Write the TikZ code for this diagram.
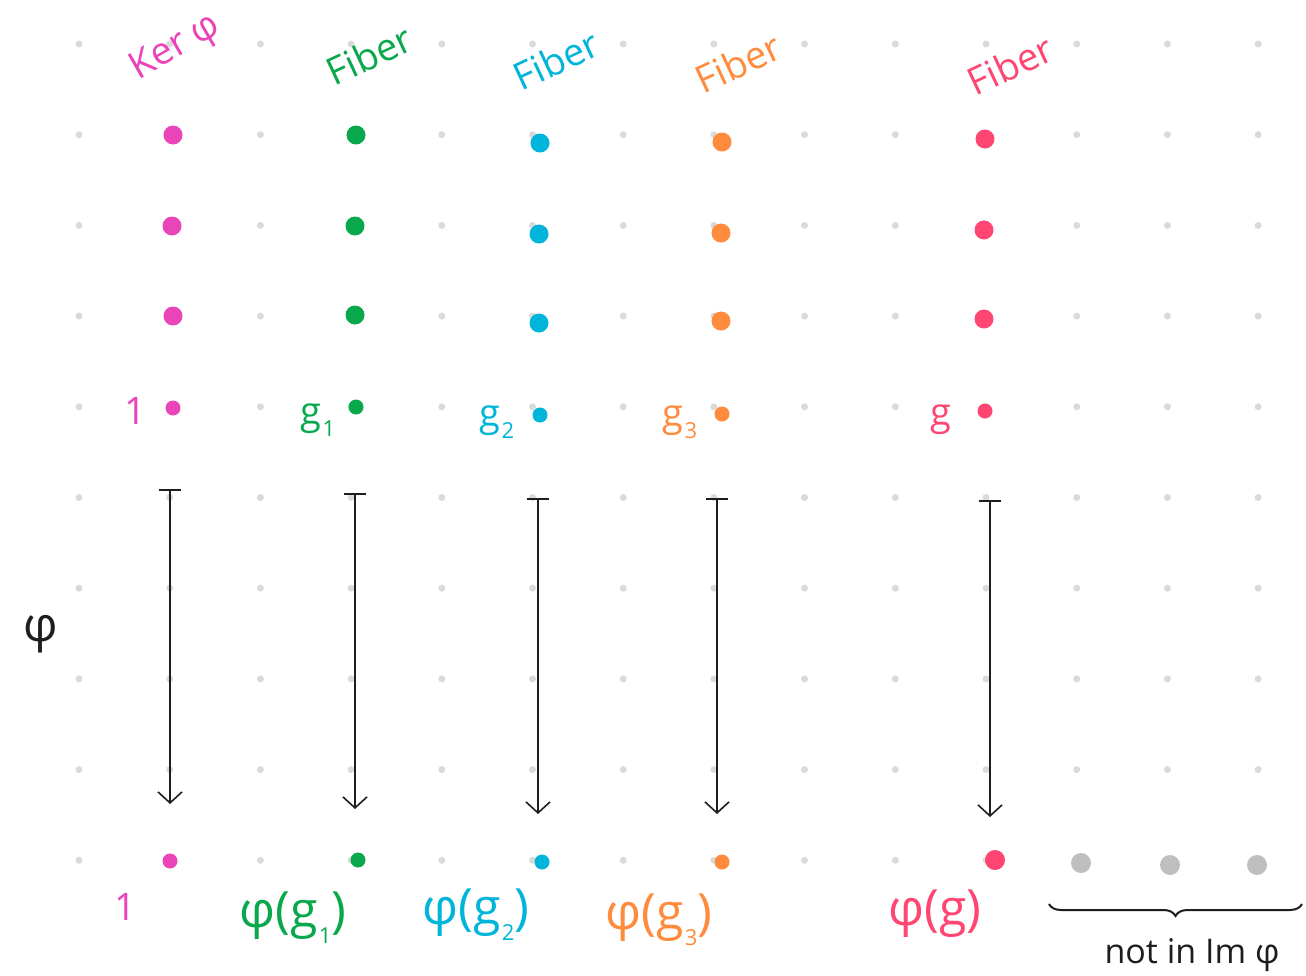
\documentclass[tikz,border=0pt]{standalone}
\usepackage{fontspec}
\setmainfont{Open Sans}
\usetikzlibrary{arrows.meta,positioning,decorations.pathreplacing}
\definecolor{KerPink}{HTML}{EA45B8}
\definecolor{FibGreen}{HTML}{0AA84C}
\definecolor{FibCyan}{HTML}{00B5D9}
\definecolor{FibOrange}{HTML}{FF8B3D}
\definecolor{FibRed}{HTML}{FF4672}
\definecolor{GridGray}{HTML}{DADADA}
\definecolor{OutGray}{HTML}{BFBFBF}
\definecolor{Ink}{HTML}{1E1E1E}
\newcommand{\lowsub}[1]{\kern1pt\raisebox{-0.32em}{\fontsize{22}{22}\selectfont #1}}
\tikzset{
  griddot/.style={circle, fill=GridGray, inner sep=0pt, minimum size=7pt},
  elem/.style={circle, inner sep=0pt, minimum size=19pt},
  base elem/.style={circle, inner sep=0pt, minimum size=15pt},
  outside/.style={circle, fill=OutGray, inner sep=0pt, minimum size=20pt},
  maparrow/.style={{Bar[width=22pt,line width=1.6pt]}-{Straight Barb[length=11pt,width=24pt,line width=1.6pt]},
    line width=1.6pt, draw=Ink},
  fibtitle/.style={font=\fontsize{38}{38}\selectfont, rotate=25, inner sep=0pt},
  rowlabel/.style={font=\fontsize{38}{38}\selectfont, inner sep=0pt},
  imglabel/.style={font=\fontsize{50}{50}\selectfont, inner sep=0pt},
  bracelabel/.style={font=\fontsize{34}{34}\selectfont, inner sep=0pt, text=Ink}
}
\begin{document}
\begin{tikzpicture}[x=1pt, y=-1pt]
  \useasboundingbox (0,0) rectangle (1306,975);
  % dotted grid
  \foreach \i in {0,...,13}
    \foreach \j in {0,...,9}
      \node[griddot] (d\i-\j) at ({79+90.7*\i},{44+90.7*\j}) {};

  % fibre titles
  \node[fibtitle, rotate=5, text=KerPink] (kerTitle) at (176,48) {Ker φ};
  \node[fibtitle, text=FibGreen] (fibA) at (369,55) {Fiber};
  \node[fibtitle, text=FibCyan] (fibB) at (556,60) {Fiber};
  \node[fibtitle, text=FibOrange] (fibC) at (738,63) {Fiber};
  \node[fibtitle, text=FibRed] (fibD) at (1010,65) {Fiber};

  % kernel
  \node[elem, fill=KerPink] (k1) at (173,135) {};
  \node[elem, fill=KerPink] (k2) at (172,226) {};
  \node[elem, fill=KerPink] (k3) at (173,316) {};
  \node[base elem, fill=KerPink] (k4) at (173,408) {};
  % fibre of g1
  \node[elem, fill=FibGreen] (a1) at (356,135) {};
  \node[elem, fill=FibGreen] (a2) at (355,226) {};
  \node[elem, fill=FibGreen] (a3) at (355,315) {};
  \node[base elem, fill=FibGreen] (a4) at (356,407) {};
  % fibre of g2
  \node[elem, fill=FibCyan] (b1) at (540,143) {};
  \node[elem, fill=FibCyan] (b2) at (539,234) {};
  \node[elem, fill=FibCyan] (b3) at (539,323) {};
  \node[base elem, fill=FibCyan] (b4) at (540,415) {};
  % fibre of g3
  \node[elem, fill=FibOrange] (c1) at (722,142) {};
  \node[elem, fill=FibOrange] (c2) at (721,233) {};
  \node[elem, fill=FibOrange] (c3) at (721,321) {};
  \node[base elem, fill=FibOrange] (c4) at (722,414) {};
  % fibre of g
  \node[elem, fill=FibRed] (e1) at (985,139) {};
  \node[elem, fill=FibRed] (e2) at (984,230) {};
  \node[elem, fill=FibRed] (e3) at (984,319) {};
  \node[base elem, fill=FibRed] (e4) at (985,411) {};

  % element labels
  \node[rowlabel, text=KerPink] (lk) at (135,411) {1};
  \node[rowlabel, text=FibGreen] (la) at (318,420) {g\lowsub{1}};
  \node[rowlabel, text=FibCyan] (lb) at (497,422) {g\lowsub{2}};
  \node[rowlabel, text=FibOrange] (lc) at (680,422) {g\lowsub{3}};
  \node[rowlabel, text=FibRed] (le) at (941,420) {g};

  % the map
  \node[font=\fontsize{48}{48}\selectfont, text=Ink, inner sep=0pt] (phi) at (41,634) {φ};
  \coordinate (kTop) at (170,489);  \coordinate (kBot) at (170,804);
  \coordinate (aTop) at (355,493);  \coordinate (aBot) at (355,809);
  \coordinate (bTop) at (538,498);  \coordinate (bBot) at (538,814);
  \coordinate (cTop) at (717,498);  \coordinate (cBot) at (717,814);
  \coordinate (eTop) at (990,500);  \coordinate (eBot) at (990,817);
  \draw[maparrow] (kTop) -- (kBot);
  \draw[maparrow] (aTop) -- (aBot);
  \draw[maparrow] (bTop) -- (bBot);
  \draw[maparrow] (cTop) -- (cBot);
  \draw[maparrow] (eTop) -- (eBot);

  % images
  \node[base elem, fill=KerPink] (ik) at (170,861) {};
  \node[base elem, fill=FibGreen] (ia) at (358,860) {};
  \node[base elem, fill=FibCyan] (ib) at (542,862) {};
  \node[base elem, fill=FibOrange] (ic) at (722,862) {};
  \node[elem, minimum size=20pt, fill=FibRed] (ie) at (995,860) {};
  \node[outside] (o1) at (1081,863) {};
  \node[outside] (o2) at (1170,865) {};
  \node[outside] (o3) at (1257,865) {};

  \node[rowlabel, text=KerPink] (lik) at (125,907) {1};
  \node[imglabel, text=FibGreen] (lia) at (293,918) {φ(g\lowsub{1})};
  \node[imglabel, text=FibCyan] (lib) at (476,915) {φ(g\lowsub{2})};
  \node[imglabel, text=FibOrange] (lic) at (659,920) {φ(g\lowsub{3})};
  \node[imglabel, text=FibRed] (lie) at (935,914) {φ(g)};

  % outside the image
  \coordinate (brL) at (1049,904);
  \coordinate (brR) at (1302,904);
  \draw[decorate, decoration={brace, mirror, amplitude=12pt}, line width=2pt, draw=Ink]
    (brL) -- (brR);
  \node[bracelabel] (notim) at (1192,955) {not in Im φ};
\end{tikzpicture}
\end{document}
